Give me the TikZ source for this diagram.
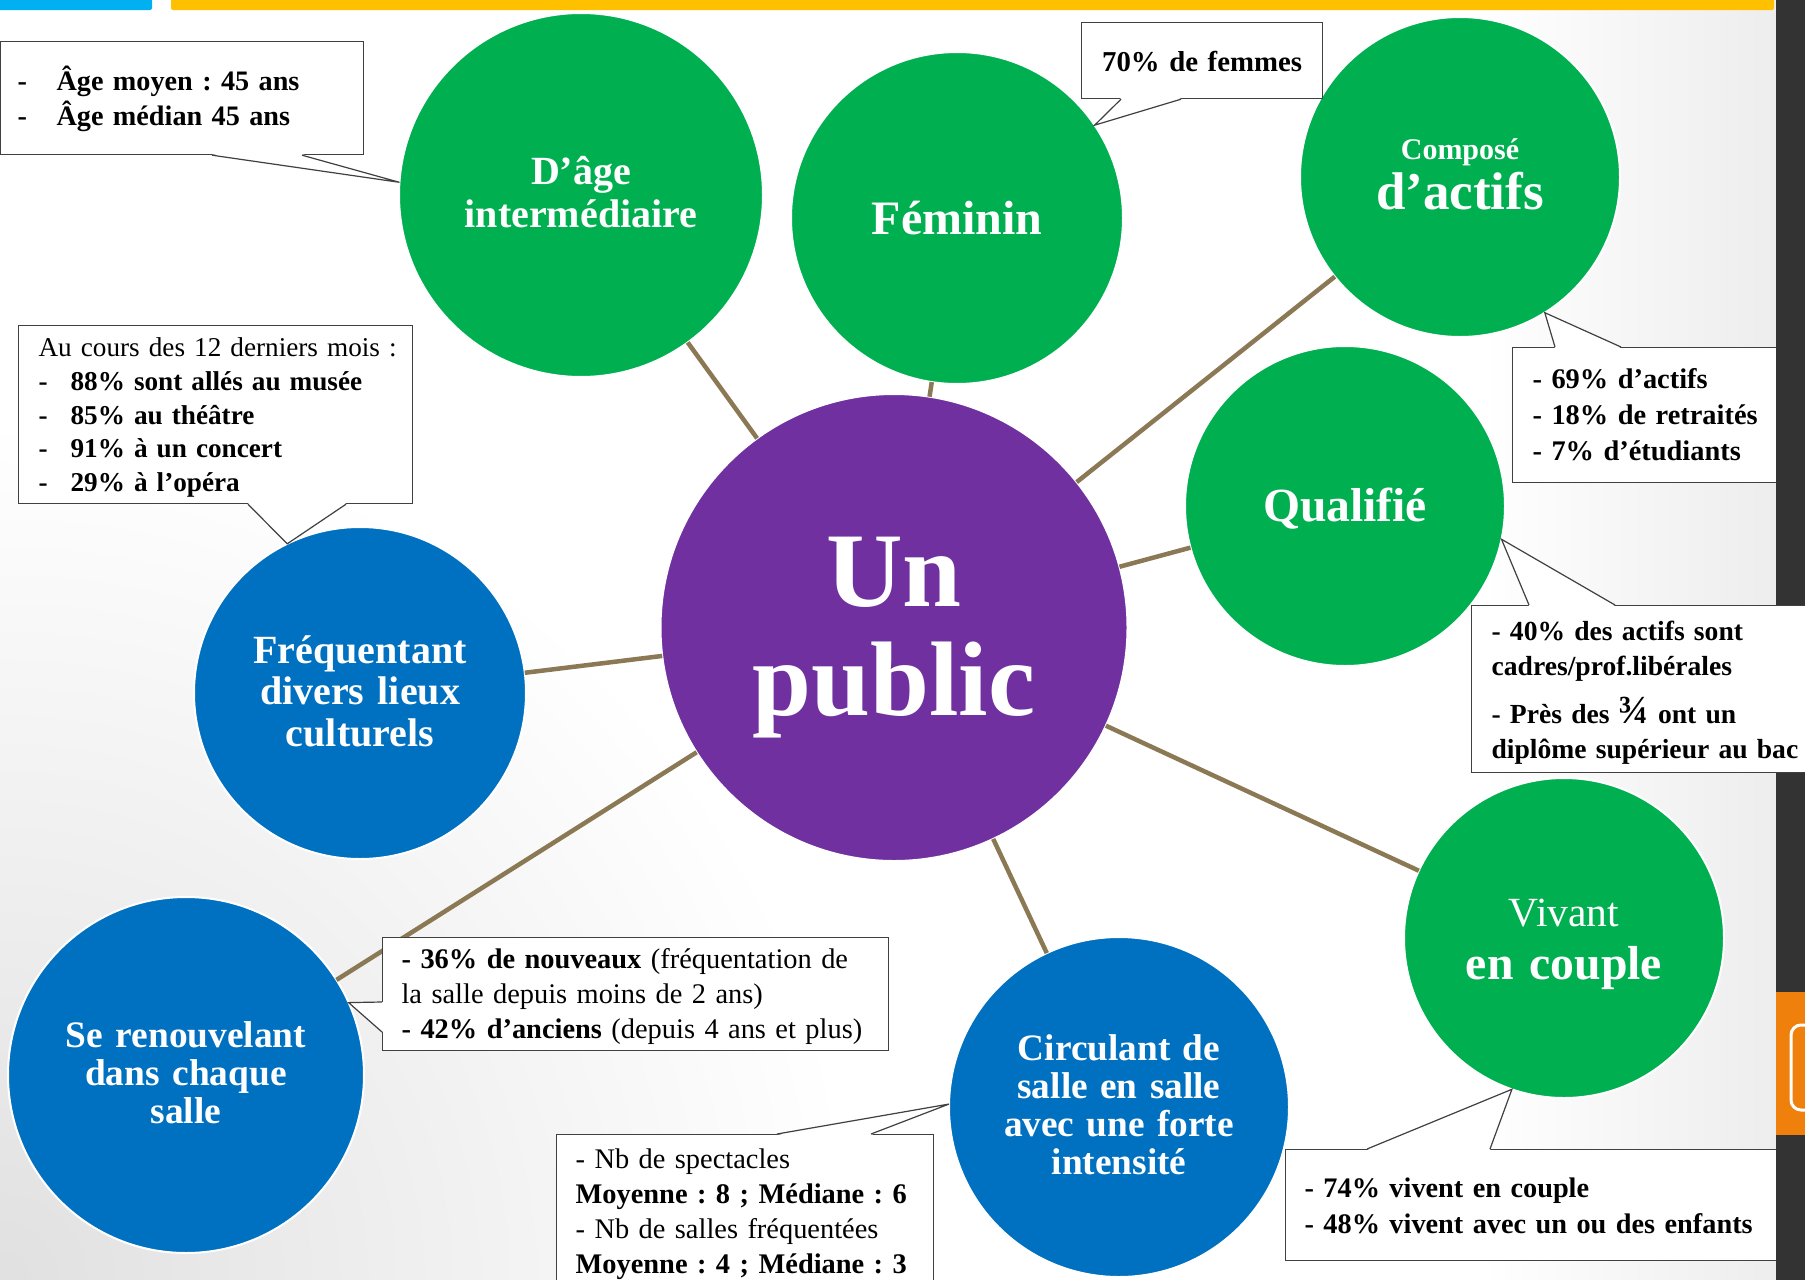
\documentclass[tikz,border=0pt]{standalone}
\usepackage{fontspec}
\setmainfont{Liberation Serif}
\usepackage{xcolor}
\usepackage{tikz}
\usetikzlibrary{calc}
\frenchspacing

\definecolor{ppgreen}{RGB}{0,176,80}
\definecolor{ppblue}{RGB}{0,112,192}
\definecolor{pppurple}{RGB}{112,48,160}
\definecolor{linkbrown}{RGB}{138,121,84}
\definecolor{notegray}{RGB}{64,64,64}
\definecolor{barblue}{RGB}{0,176,240}
\definecolor{baryellow}{RGB}{255,192,0}
\definecolor{sidedark}{RGB}{51,51,51}
\definecolor{tabgold}{RGB}{240,128,12}

\begin{document}
\begin{tikzpicture}[
      x=1pt, y=-1pt,
      bubble/.style={circle, inner sep=0pt, outer sep=0pt, draw=white, line width=2pt,
        text=white, align=center, font=\bfseries},
      greenbubble/.style={bubble, fill=ppgreen},
      bluebubble/.style={bubble, fill=ppblue},
      notebox/.style={draw=notegray, fill=white, line width=1.2pt, inner ysep=0pt,
        anchor=north west, align=left, font=\bfseries\fontsize{28.2}{35}\selectfont},
      pointer/.style={draw=notegray, line width=1.2pt},
      link/.style={draw=linkbrown, line width=4.5pt}
    ]
    \useasboundingbox (0,0) rectangle (1805,1280);
    \clip (0,0) rectangle (1805,1280);

    \fill[white] (0,0) rectangle (1805,1280);
    \shade[inner color=gray!24, outer color=white] (0,1280) circle (860);
    \shade[left color=white, right color=gray!14] (1480,0) rectangle (1776,1280);
    \fill[barblue, rounded corners=2pt] (-5,-5) rectangle (152,10);
    \fill[baryellow, rounded corners=2pt] (171,-5) rectangle (1774,10);

    \node[bubble, fill=pppurple, minimum size=467, text width=330, text height=66, text depth=109,
      font=\bfseries\fontsize{106}{109}\selectfont] (publicCore) at (894,627.5) {Un\\public};

    \node[greenbubble, minimum size=364, text width=260, text height=21, text depth=43,
      font=\bfseries\fontsize{40}{43}\selectfont] (ageBubble) at (581,195) {D’âge\\intermédiaire};
    \node[greenbubble, minimum size=332, text width=240, text height=32, text depth=0,
      font=\bfseries\fontsize{48}{50}\selectfont] (femBubble) at (957,218) {Féminin};
    \node[greenbubble, minimum size=320, text width=240, text height=14, text depth=50,
      font=\bfseries\fontsize{53}{50}\selectfont] (actBubble) at (1460,177)
      {{\fontsize{30}{30}\selectfont Composé}\\d’actifs};
    \node[greenbubble, minimum size=320, text width=240, text height=30, text depth=0,
      font=\bfseries\fontsize{47.6}{50}\selectfont] (qualBubble) at (1345,506) {Qualifié};
    \node[bluebubble, minimum size=332, text width=250, text height=23, text depth=83,
      font=\bfseries\fontsize{40}{41.5}\selectfont] (venueBubble) at (360,693)
      {Fréquentant\\divers lieux\\culturels};
    \node[bluebubble, minimum size=356, text width=260, text height=20, text depth=76,
      font=\bfseries\fontsize{37.4}{38}\selectfont] (renewBubble) at (186,1075)
      {Se renouvelant\\dans chaque\\salle};
    \node[bluebubble, minimum size=340, text width=260, text height=21, text depth=115,
      font=\bfseries\fontsize{37.3}{38.3}\selectfont] (circBubble) at (1119,1107)
      {Circulant de\\salle en salle\\avec une forte\\intensité};
    \node[greenbubble, minimum size=320, text width=240, text height=29, text depth=53,
      font=\bfseries\fontsize{47.7}{53}\selectfont] (coupleBubble) at (1564,938)
      {{\mdseries\fontsize{41.5}{41.5}\selectfont Vivant}\\en couple};

    \foreach \leaf in {ageBubble, femBubble, actBubble, qualBubble, venueBubble,
        renewBubble, circBubble, coupleBubble}
      \draw[link] (publicCore) -- (\leaf);

    \node[notebox, inner xsep=17, text width=329, text height=49, text depth=64] (ageNote) at (0,41)
      {\makebox[39pt][l]{-}Âge moyen : 45 ans\\\makebox[39pt][l]{-}Âge médian 45 ans};
    \fill[white] ([xshift=212pt, yshift=1pt]ageNote.south west) -- (ageBubble.176)
      -- ([xshift=302pt, yshift=1pt]ageNote.south west) -- cycle;
    \draw[pointer] ([xshift=212pt]ageNote.south west) -- (ageBubble.176)
      -- ([xshift=302pt]ageNote.south west);

    \node[notebox, align=center, inner xsep=10, text width=221, text height=49, text depth=27,
      font=\bfseries\fontsize{28.8}{35}\selectfont] (femNote) at (1081,22) {70\% de femmes};
    \fill[white] ([xshift=40pt, yshift=1pt]femNote.south west) -- (femBubble.34)
      -- ([xshift=100pt, yshift=1pt]femNote.south west) -- cycle;
    \draw[pointer] ([xshift=40pt]femNote.south west) -- (femBubble.34)
      -- ([xshift=100pt]femNote.south west);

    \node[notebox, inner xsep=20, text width=248, text height=41, text depth=94,
      font=\bfseries\fontsize{28.4}{36}\selectfont] (actNote) at (1512,347)
      {- 69\% d’actifs\\- 18\% de retraités\\- 7\% d’étudiants};
    \fill[white] ([xshift=43pt, yshift=-1pt]actNote.north west) -- (actBubble.302)
      -- ([xshift=109pt, yshift=-1pt]actNote.north west) -- cycle;
    \draw[pointer] ([xshift=43pt]actNote.north west) -- (actBubble.302)
      -- ([xshift=109pt]actNote.north west);

    \node[notebox, inner xsep=20, text width=354, text height=31, text depth=147,
      font=\bfseries\fontsize{27.2}{33.75}\selectfont] (venueNote) at (18,325)
      {\mbox{\mdseries Au cours des 12 derniers mois :}\\
       \makebox[32pt][l]{-}88\% sont allés au musée\\
       \makebox[32pt][l]{-}85\% au théâtre\\
       \makebox[32pt][l]{-}91\% à un concert\\
       \makebox[32pt][l]{-}29\% à l’opéra};
    \fill[white] ([xshift=230pt, yshift=1pt]venueNote.south west) -- (venueBubble.116)
      -- ([xshift=328pt, yshift=1pt]venueNote.south west) -- cycle;
    \draw[pointer] ([xshift=230pt]venueNote.south west) -- (venueBubble.116)
      -- ([xshift=328pt]venueNote.south west);

    \node[notebox, inner xsep=19, text width=468, text height=31, text depth=82,
      font=\mdseries\fontsize{28.4}{35}\selectfont] (renewNote) at (382,937)
      {\textbf{- 36\% de nouveaux} (fréquentation de\\la salle depuis moins de 2 ans)\\
       \textbf{- 42\% d’anciens} (depuis 4 ans et plus)};
    \fill[white] ([xshift=1pt, yshift=-65pt]renewNote.north west) -- (renewBubble.24)
      -- ([xshift=1pt, yshift=-95pt]renewNote.north west) -- cycle;
    \draw[pointer] ([yshift=-65pt]renewNote.north west) -- (renewBubble.24)
      -- ([yshift=-95pt]renewNote.north west);

    \node[notebox, inner xsep=19, text width=339, text height=34, text depth=170,
      font=\mdseries\fontsize{28.4}{35}\selectfont] (showNote) at (556,1134)
      {- Nb de spectacles\\\textbf{Moyenne : 8 ; Médiane : 6}\\
       - Nb de salles fréquentées\\\textbf{Moyenne : 4 ; Médiane : 3}};
    \fill[white] ([xshift=221pt, yshift=-1pt]showNote.north west) -- (circBubble.179)
      -- ([xshift=315pt, yshift=-1pt]showNote.north west) -- cycle;
    \draw[pointer] ([xshift=221pt]showNote.north west) -- (circBubble.179)
      -- ([xshift=315pt]showNote.north west);

    \node[notebox, inner xsep=19, text width=477, text height=48, text depth=63,
      font=\bfseries\fontsize{28.3}{36}\selectfont] (coupleNote) at (1285,1149)
      {- 74\% vivent en couple\\- 48\% vivent avec un ou des enfants};
    \fill[white] ([xshift=82pt, yshift=-1pt]coupleNote.north west) -- (coupleBubble.251)
      -- ([xshift=205pt, yshift=-1pt]coupleNote.north west) -- cycle;
    \draw[pointer] ([xshift=82pt]coupleNote.north west) -- (coupleBubble.251)
      -- ([xshift=205pt]coupleNote.north west);

    \fill[sidedark] (1776,0) rectangle (1805,1280);
    \fill[tabgold] (1776,992) rectangle (1805,1135);
    \draw[white, line width=3pt, rounded corners=10pt] (1815,1025) -- (1791,1025)
      -- (1791,1110) -- (1815,1110);

    \node[notebox, inner xsep=20, text width=330, text height=35, text depth=132,
      font=\bfseries\fontsize{27.6}{35}\selectfont] (qualNote) at (1471,605)
      {- 40\% des actifs sont\\cadres/prof.libérales\\[13pt]
       - Près des {\fontsize{40}{40}\selectfont ¾} ont un\\diplôme supérieur au bac};
    \fill[white] ([xshift=58pt, yshift=-1pt]qualNote.north west) -- (qualBubble.348)
      -- ([xshift=144pt, yshift=-1pt]qualNote.north west) -- cycle;
    \draw[pointer] ([xshift=58pt]qualNote.north west) -- (qualBubble.348)
      -- ([xshift=144pt]qualNote.north west);
  \end{tikzpicture}
\end{document}
